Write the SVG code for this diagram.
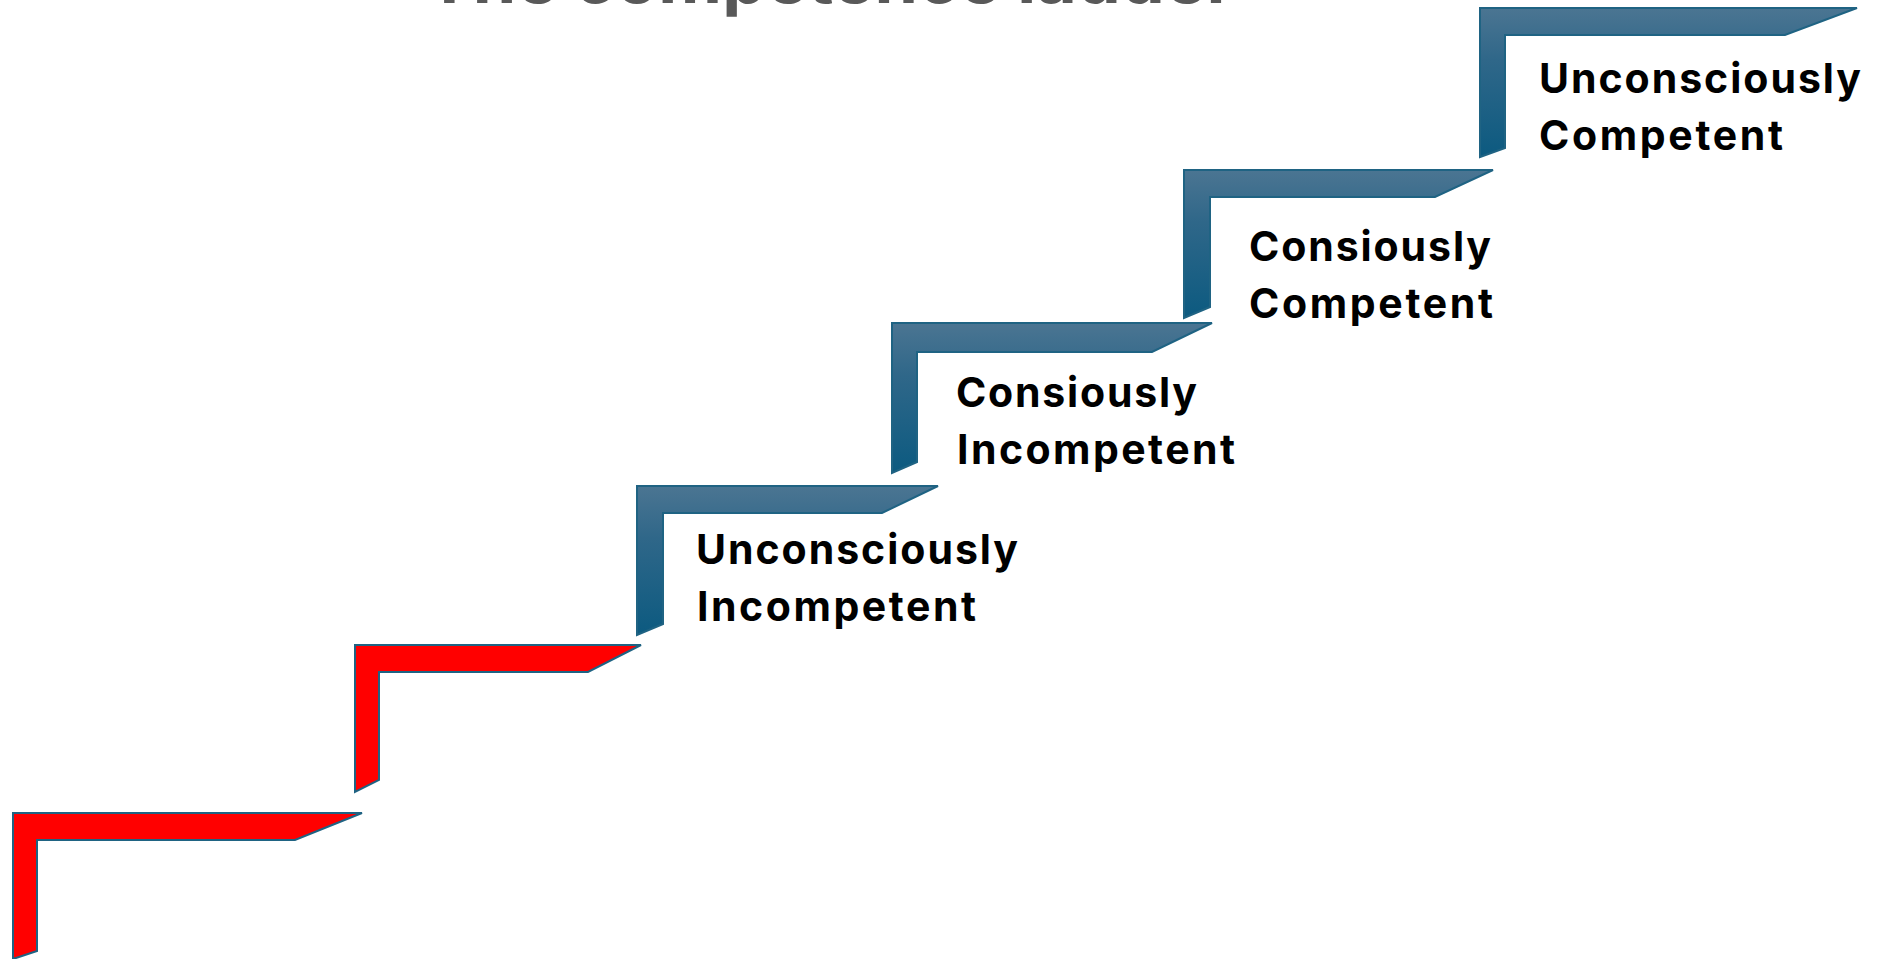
<svg xmlns="http://www.w3.org/2000/svg" width="1880" height="959" viewBox="0 0 1880 959">
<defs>
<linearGradient id="blueGrad" x1="0" y1="0" x2="0" y2="1">
<stop offset="0" stop-color="#4b7592"/>
<stop offset="0.35" stop-color="#2f6789"/>
<stop offset="1" stop-color="#0c5a80"/>
</linearGradient>
<style>
.red{fill:#ff0000;stroke:#1f6383;stroke-width:2;stroke-linejoin:miter}
.blue{fill:url(#blueGrad);stroke:#1f6383;stroke-width:2;stroke-linejoin:miter}
.lbl{font-family:Inter,"Liberation Sans",Arial,sans-serif;font-weight:700;font-size:41px;fill:#000}
.title{font-family:Inter,"Liberation Sans",Arial,sans-serif;font-weight:700;font-size:66px;fill:#595959}
</style>
</defs>
<rect width="1880" height="959" fill="#fff"/>
<text class="title" x="426" y="3" textLength="809" lengthAdjust="spacingAndGlyphs">The competence ladder</text>
<g id="step1">
<path class="red" d="M13,813 L362,813 L295,840 L37,840 L37,951 L13,959 Z"/>
</g>
<g id="step2">
<path class="red" d="M355,645 L641,645 L588,672 L379,672 L379,780 L355,792 Z"/>
</g>
<g id="step3">
<path class="blue" d="M637,486 L938,486 L882,513 L663,513 L663,624 L637,635 Z"/>
<text class="lbl" x="696" y="564" textLength="322" lengthAdjust="spacing">Unconsciously</text>
<text class="lbl" x="697" y="621" textLength="279" lengthAdjust="spacing">Incompetent</text>
</g>
<g id="step4">
<path class="blue" d="M892,323 L1212,323 L1152,352 L917,352 L917,462 L892,473 Z"/>
<text class="lbl" x="956" y="407" textLength="241" lengthAdjust="spacing">Consiously</text>
<text class="lbl" x="957" y="464" textLength="278" lengthAdjust="spacing">Incompetent</text>
</g>
<g id="step5">
<path class="blue" d="M1184,170 L1493,170 L1435,197 L1210,197 L1210,307 L1184,318 Z"/>
<text class="lbl" x="1249" y="261" textLength="242" lengthAdjust="spacing">Consiously</text>
<text class="lbl" x="1249" y="318" textLength="244" lengthAdjust="spacing">Competent</text>
</g>
<g id="step6">
<path class="blue" d="M1480,8 L1857,8 L1785,35 L1505,35 L1505,148 L1480,157 Z"/>
<text class="lbl" x="1539" y="93" textLength="322" lengthAdjust="spacing">Unconsciously</text>
<text class="lbl" x="1539" y="150" textLength="244" lengthAdjust="spacing">Competent</text>
</g>
</svg>
